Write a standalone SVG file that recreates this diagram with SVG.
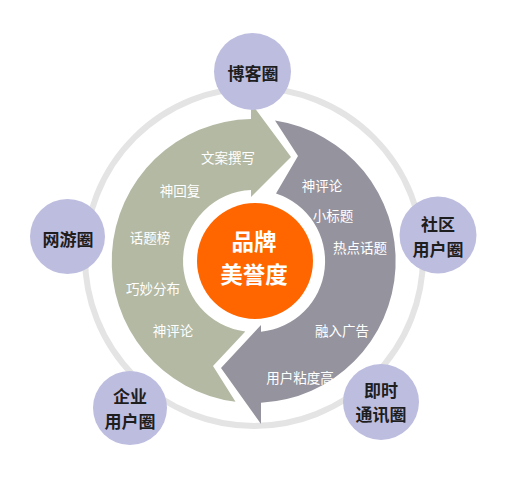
<svg xmlns="http://www.w3.org/2000/svg" width="506" height="483" viewBox="0 0 506 483">
<style>
.node circle{fill:#bdbde0}
.nt{font-family:"Noto Sans CJK SC","Liberation Sans",sans-serif;font-size:17px;font-weight:bold;fill:#1e1e1e;text-anchor:middle;dominant-baseline:central}
.at{font-family:"Noto Sans CJK SC","Liberation Sans",sans-serif;font-size:13.5px;fill:#ffffff;text-anchor:middle;dominant-baseline:central}
.ct{font-family:"Noto Sans CJK SC","Liberation Sans",sans-serif;font-size:22.5px;font-weight:bold;fill:#ffffff;text-anchor:middle;dominant-baseline:central}
</style>
<rect width="506" height="483" fill="#ffffff"/>
<g id="connectors">
<circle cx="254" cy="257" r="169" fill="none" stroke="#e4e4e4" stroke-width="6"/>
</g>
<g id="arrow-green">
<path d="M251,119 L251,103 L291,157 L251,197 L251,190.1 A71,71 0 0 0 245.3,331.5 L213,366 L235.5,401.8 A142,142 0 0 1 251,119 Z" fill="#b3b9a3"/>
<text class="at" x="228" y="157">文案撰写</text>
<text class="at" x="180" y="190">神回复</text>
<text class="at" x="150" y="237">话题榜</text>
<text class="at" x="153" y="288">巧妙分布</text>
<text class="at" x="173" y="330">神评论</text>
</g>
<g id="arrow-gray">
<path d="M275,120.6 A142,142 0 0 1 261,402.8 L261,424 L221,368 L261,325 L261,331.7 A71,71 0 0 0 276,193.5 L298,156 Z" fill="#95939d"/>
<text class="at" x="322" y="185">神评论</text>
<text class="at" x="333" y="215">小标题</text>
<text class="at" x="360" y="247">热点话题</text>
<text class="at" x="342" y="330">融入广告</text>
<text class="at" x="300" y="377">用户粘度高</text>
</g>
<g id="center">
<circle cx="255" cy="261" r="58" fill="#ff6600"/>
<text class="ct" x="254" y="239.5">品牌</text>
<text class="ct" x="254" y="272.5">美誉度</text>
</g>
<g id="node-blog" class="node">
<circle cx="252.5" cy="71.5" r="38.5"/>
<text class="nt" x="253" y="72">博客圈</text>
</g>
<g id="node-game" class="node">
<circle cx="67.5" cy="236.5" r="37.5"/>
<text class="nt" x="68" y="238">网游圈</text>
</g>
<g id="node-community" class="node">
<circle cx="438" cy="235" r="38.5"/>
<text class="nt"><tspan x="438" y="223">社区</tspan><tspan x="438" y="248">用户圈</tspan></text>
</g>
<g id="node-enterprise" class="node">
<circle cx="130" cy="408" r="37"/>
<text class="nt"><tspan x="130" y="395">企业</tspan><tspan x="130" y="420">用户圈</tspan></text>
</g>
<g id="node-im" class="node">
<circle cx="381" cy="402" r="38"/>
<text class="nt"><tspan x="381" y="389">即时</tspan><tspan x="381" y="413">通讯圈</tspan></text>
</g>
</svg>
